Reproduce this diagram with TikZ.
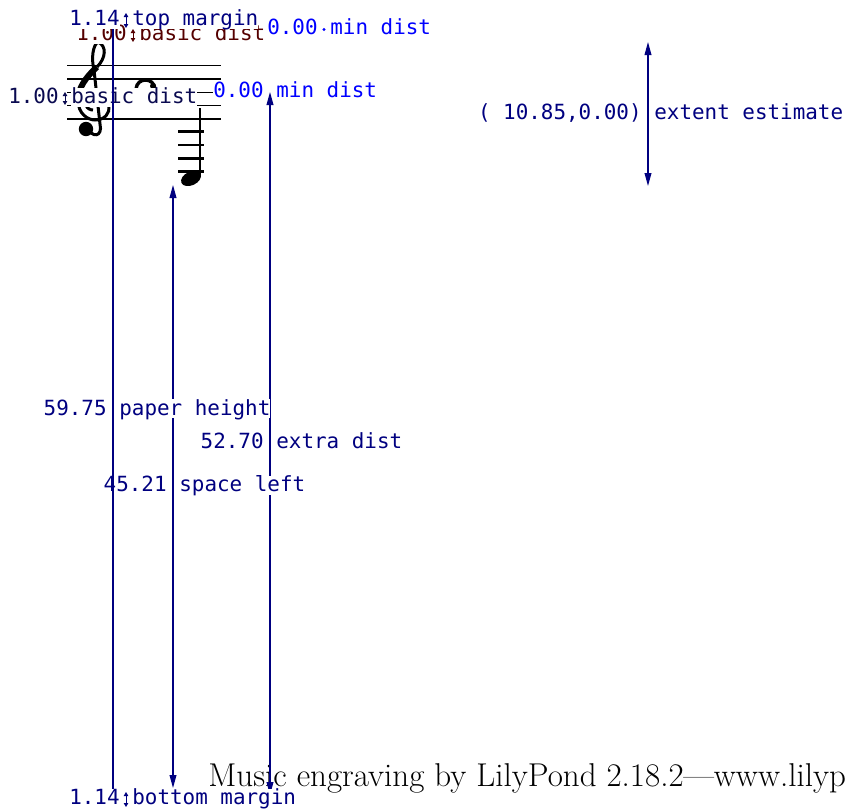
\documentclass[tikz,border=0pt]{standalone}
\usepackage{fontspec}
\usepackage{tikz}
\usetikzlibrary{
  arrows.meta,
  positioning,
  calc
}
\newfontfamily\anotfont{DejaVu Sans Mono}
\definecolor{azulanot}{RGB}{0, 0, 128}
\definecolor{azulmin}{RGB}{0, 0, 255}
\definecolor{rojobasic}{RGB}{85, 0, 0}
\definecolor{azulbasic}{RGB}{10, 10, 80}

\begin{document}
\begin{tikzpicture}[
  x=0.5pt, y=-0.5pt,
  lbl/.style    = {
    font=\anotfont\fontsize{10.45}{12}\selectfont, text=azulanot,
    fill=white, inner sep=0pt, text height=7.95pt, text depth=1.57pt,
    yshift=0.6pt
  },
  flecha/.style = {{Triangle[length=6.5pt,width=3.4pt]}-{Triangle[length=6.5pt,width=3.4pt]},
    line width=0.6pt, azulanot},
  mini/.style   = {{Triangle[length=2pt,width=2.2pt]}-{Triangle[length=2pt,width=2.2pt]},
    line width=0.5pt},
  linea/.style  = {line width=0.6pt, azulanot},
  pauta/.style  = {line width=0.6pt, black},
  adic/.style   = {line width=1.3pt, black},
  node distance = 3pt
]
\useasboundingbox (0,0) rectangle (847,809);
\clip (0,0) rectangle (847,809);

% Pie de pagina
\node[anchor=base west, inner sep=0pt, font=\fontsize{16.5}{19}\selectfont]
  (pie) at (208,786) {Music engraving by LilyPond 2.18.2—www.lilyp};

% Pentagrama
\draw[pauta] (67,65.7)  -- (221,65.7);
\draw[pauta] (67,79)    -- (221,79);
\draw[pauta] (67,92.3)  -- (221,92.3);
\draw[pauta] (67,105.7) -- (221,105.7);
\draw[pauta] (67,119)   -- (221,119);

% Lineas adicionales, plica y cabeza
\draw[adic] (178,131.7) -- (204,131.7);
\draw[adic] (178,145)   -- (204,145);
\draw[adic] (178,158.3) -- (204,158.3);
\draw[adic] (178,171.7) -- (204,171.7);
\draw[line width=1pt] (199.5,108) -- (199.5,177);
\fill[rotate around={25:(191,178.5)}] (191,178.5) ellipse (10.5 and 6.8);

% Calderon
\draw[line width=1.7pt] (136,89) .. controls (137,77) and (154,77) .. (155,89);
\fill (153,86) circle (1.5pt);

% Clave de sol
\draw[line width=1.5pt] (86,126) .. controls (92,139) and (103,137) .. (100,124)
  -- (94,70) .. controls (91,58) and (93,45) .. (98,42);
\draw[line width=1.5pt] (98,42) .. controls (107,46) and (106,58) .. (97,67);
\draw[line width=3pt] (97,67) .. controls (86,77) and (78,88) .. (78,100);
\draw[line width=1.5pt] (78,100) .. controls (78,114) and (88,120) .. (95,120)
  .. controls (105,120) and (110,113) .. (109,106)
  .. controls (108,97) and (101,93) .. (95,93)
  .. controls (87,93) and (84,100) .. (86,105)
  .. controls (87,109) and (91,110) .. (93,110);
\fill (86,129) circle (3.6pt);

% Estimacion de extension
\coordinate (ext-a) at (648,42);
\coordinate (ext-b) at (648,186);
\coordinate (ext-m) at ($(ext-a)!0.5!(ext-b)$);
\draw[flecha] (ext-a) -- (ext-b);
\node[lbl, left=of ext-m]  (ext-v) {( 10.85,0.00)};
\node[lbl, right=of ext-m] (ext-t) {extent estimate};

% Distancia minima (arriba)
\coordinate (md1) at (324,29.5);
\fill[azulmin] (md1) circle (0.8pt);
\node[lbl, text=azulmin, left=of md1]  (md1-v) {0.00};
\node[lbl, text=azulmin, right=of md1] (md1-t) {min dist};

% Distancia basica (arriba)
\coordinate (bd1-a) at (133,29);
\coordinate (bd1-b) at (133,42);
\coordinate (bd1-m) at ($(bd1-a)!0.5!(bd1-b)$);
\draw[mini, rojobasic] (bd1-a) -- (bd1-b);
\node[lbl, text=rojobasic, left=of bd1-m]  (bd1-v) {1.00};
\node[lbl, text=rojobasic, right=of bd1-m] (bd1-t) {basic dist};

% Distancia basica (pentagrama)
\coordinate (bd2-a) at (65,92);
\coordinate (bd2-b) at (65,105);
\coordinate (bd2-m) at ($(bd2-a)!0.5!(bd2-b)$);
\draw[mini, azulbasic] (bd2-a) -- (bd2-b);
\node[lbl, text=azulbasic, left=of bd2-m]  (bd2-v) {1.00};
\node[lbl, text=azulbasic, right=of bd2-m] (bd2-t) {basic dist};

% Distancia minima (pentagrama)
\coordinate (md2) at (270,92.5);
\node[lbl, text=azulmin, left=of md2]  (md2-v) {0.00};
\node[lbl, text=azulmin, right=of md2] (md2-t) {min dist};

% Distancia extra
\coordinate (ed-a) at (270,92);
\coordinate (ed-b) at (270,795);
\coordinate (ed-m) at ($(ed-a)!0.5!(ed-b)$);
\draw[flecha] (ed-a) -- (ed-b);
\node[lbl, left=of ed-m]  (ed-v) {52.70};
\node[lbl, right=of ed-m] (ed-t) {extra dist};

% Espacio restante
\coordinate (sl-a) at (173,185);
\coordinate (sl-b) at (173,788);
\coordinate (sl-m) at ($(sl-a)!0.5!(sl-b)$);
\draw[flecha] (sl-a) -- (sl-b);
\node[lbl, left=of sl-m]  (sl-v) {45.21};
\node[lbl, right=of sl-m] (sl-t) {space left};

% Altura del papel
\coordinate (ph-a) at (113,25);
\coordinate (ph-b) at (113,795);
\coordinate (ph-m) at ($(ph-a)!0.5!(ph-b)$);
\node[lbl, left=of ph-m]  (ph-v) {59.75};
\node[lbl, right=of ph-m] (ph-t) {paper height};
\draw[linea] (ph-a) -- (ph-b);

% Margen superior
\coordinate (tm-a) at (126,13);
\coordinate (tm-b) at (126,28);
\coordinate (tm-m) at ($(tm-a)!0.5!(tm-b)$);
\draw[mini, azulanot] (tm-a) -- (tm-b);
\node[lbl, left=of tm-m]  (tm-v) {1.14};
\node[lbl, right=of tm-m] (tm-t) {top margin};

% Margen inferior
\coordinate (bm-a) at (126,792);
\coordinate (bm-b) at (126,807);
\coordinate (bm-m) at ($(bm-a)!0.5!(bm-b)$);
\draw[mini, azulanot] (bm-a) -- (bm-b);
\node[lbl, left=of bm-m]  (bm-v) {1.14};
\node[lbl, right=of bm-m] (bm-t) {bottom margin};

\end{tikzpicture}
\end{document}
